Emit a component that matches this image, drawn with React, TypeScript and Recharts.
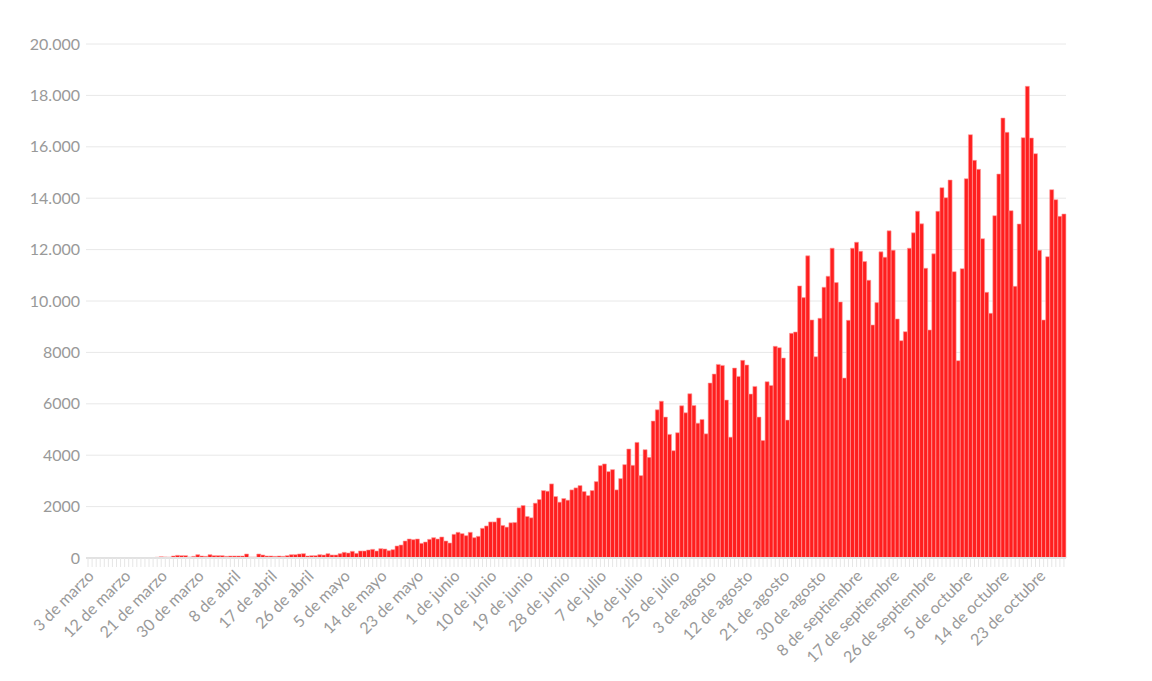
import React from "react";
import { BarChart, Bar, XAxis, YAxis, CartesianGrid } from "recharts";

// daily new cases, one array per month
const casesMarch = [1, 0, 1, 6, 1, 3, 5, 2, 2, 12, 3, 11, 11, 9, 14, 14, 18, 31, 50, 41, 36, 78, 104, 91, 91, 39, 65, 130, 78];
const casesApril = [65, 130, 91, 91, 91, 65, 78, 78, 78, 78, 156, 39, 39, 156, 117, 78, 78, 65, 78, 65, 91, 130, 130, 156, 169, 78, 91, 91, 130, 117];
const casesMay = [169, 117, 117, 169, 221, 195, 260, 182, 273, 273, 312, 338, 273, 364, 351, 286, 325, 468, 506, 662, 740, 714, 740, 571, 623, 727, 792, 740, 818, 662, 584];
const casesJune = [922, 1000, 948, 870, 1000, 792, 844, 1156, 1247, 1403, 1403, 1558, 1267, 1202, 1370, 1383, 1952, 2043, 1616, 1564, 2133, 2275, 2624, 2599, 2883, 2392, 2172, 2314, 2250, 2650];
const casesJuly = [2728, 2818, 2585, 2430, 2624, 2973, 3594, 3659, 3361, 3439, 2650, 3090, 3633, 4241, 3607, 4499, 3206, 4215, 3918, 5327, 5766, 6102, 5482, 4810, 4176, 4874, 5921, 5651, 6391, 5936, 5248];
const casesAugust = [5391, 4832, 6807, 7157, 7534, 7495, 6144, 4702, 7391, 7067, 7690, 7508, 6378, 6677, 5482, 4573, 6859, 6716, 8236, 8184, 7781, 5365, 8742, 8794, 10587, 10132, 11756, 9262, 7833, 9327, 10535];
const casesSeptember = [10964, 12055, 10717, 9963, 7002, 9249, 12055, 12289, 11938, 11535, 10808, 9067, 9937, 11912, 11704, 12730, 11977, 9301, 8457, 8807, 12055, 12652, 13497, 13003, 11275, 8872, 11834, 13489, 14410, 14021];
const casesOctober = [14708, 11141, 7678, 11258, 14760, 16472, 15473, 15123, 12425, 10337, 9520, 13320, 14941, 17120, 16563, 13515, 10570, 12996, 16355, 18353, 16342, 15733, 11971, 9261, 11725, 14332, 13943, 13294, 13385];

// one label every 9 days, starting at the first day
const tickLabels = [
  "3 de marzo", "12 de marzo", "21 de marzo", "30 de marzo", "8 de abril", "17 de abril",
  "26 de abril", "5 de mayo", "14 de mayo", "23 de mayo", "1 de junio", "10 de junio",
  "19 de junio", "28 de junio", "7 de julio", "16 de julio", "25 de julio", "3 de agosto",
  "12 de agosto", "21 de agosto", "30 de agosto", "8 de septiembre", "17 de septiembre",
  "26 de septiembre", "5 de octubre", "14 de octubre", "23 de octubre",
];
const LABEL_EVERY = 9;

const yTicks = [0, 2000, 4000, 6000, 8000, 10000, 12000, 14000, 16000, 18000, 20000];

const cases = [
  ...casesMarch, ...casesApril, ...casesMay, ...casesJune,
  ...casesJuly, ...casesAugust, ...casesSeptember, ...casesOctober,
];

const START = Date.UTC(2020, 2, 3);
const data = cases.map((v, i) => ({
  day: new Date(START + i * 86400000).toISOString().slice(0, 10),
  cases: v,
}));

const FONT = "Lato, 'Open Sans', sans-serif";
const GRAY = "#999999";

// es-ES style: no separator below 10.000
const formatY = (v: number) =>
  v >= 10000 ? String(v).replace(/\B(?=(\d{3})+(?!\d))/g, ".") : String(v);

const DayTick = (props: any) => {
  const { x, y, index } = props;
  if (index % LABEL_EVERY !== 0) return <g />;
  const label = tickLabels[index / LABEL_EVERY];
  if (!label) return <g />;
  const tx = x + 7;
  const ty = y + 8;
  return (
    <text
      x={tx}
      y={ty}
      textAnchor="end"
      fill={GRAY}
      fontSize={16}
      fontFamily={FONT}
      transform={`rotate(-45, ${tx}, ${ty})`}
    >
      {label}
    </text>
  );
};

export default function App() {
  return (
    <div style={{ position: "absolute", left: 0, top: 0, width: 1152, height: 681, background: "#fff" }}>
      <BarChart
        width={1152}
        height={681}
        data={data}
        margin={{ top: 44, right: 86, bottom: 0, left: 0 }}
        barCategoryGap={0}
      >
        <CartesianGrid vertical={false} stroke="#e8e8e8" />
        <XAxis
          dataKey="day"
          interval={0}
          height={123}
          tickSize={9}
          tickLine={{ stroke: "#e6e6e6" }}
          axisLine={{ stroke: "#e2e2e2", strokeWidth: 2 }}
          tick={<DayTick />}
        />
        <YAxis
          width={86}
          domain={[0, 20000]}
          ticks={yTicks}
          tickFormatter={formatY}
          axisLine={false}
          tickLine={false}
          tickSize={4}
          tickMargin={2}
          tick={{ fill: GRAY, fontSize: 16, fontFamily: FONT }}
        />
        <Bar
          dataKey="cases"
          fill="#ff1f1f"
          stroke="#ff9c9c"
          strokeWidth={0.6}
          isAnimationActive={false}
        />
      </BarChart>
    </div>
  );
}
